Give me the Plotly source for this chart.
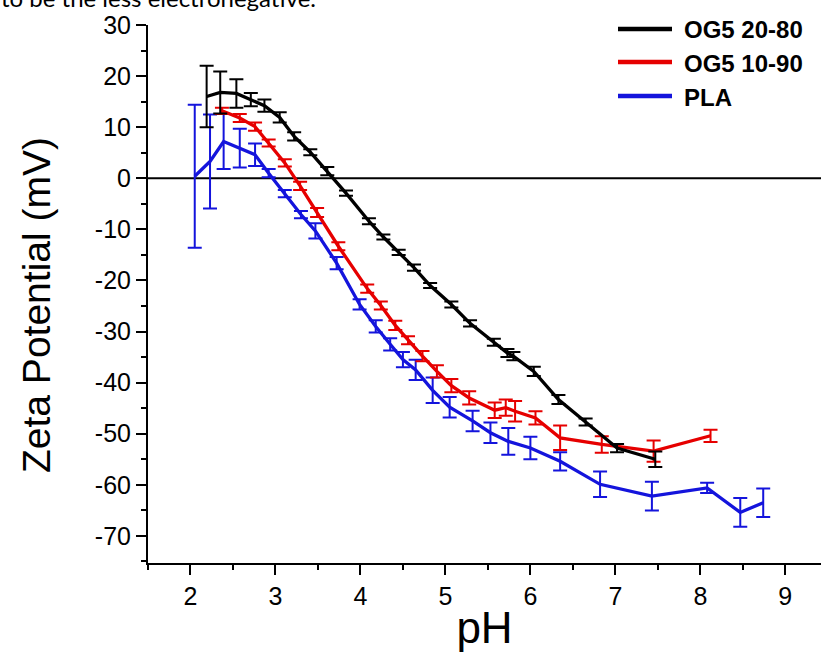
import plotly.graph_objects as go

# OG5 20-80 (black)
ph_a = [2.19, 2.35, 2.54, 2.71, 2.87, 3.05, 3.22, 3.41, 3.61, 3.83, 4.10, 4.27, 4.45, 4.63, 4.82, 5.07, 5.29, 5.57, 5.73, 5.80, 6.04, 6.33, 6.65, 7.02, 7.47]
zp_a = [16.0, 16.8, 16.6, 15.4, 14.2, 11.9, 8.2, 5.1, 1.4, -2.9, -8.4, -11.5, -14.5, -17.5, -21.0, -24.7, -28.4, -32.1, -34.2, -34.8, -37.8, -43.3, -47.7, -52.8, -55.0]
er_a = [6.0, 4.1, 2.8, 1.3, 1.2, 1.0, 0.8, 0.6, 0.8, 0.5, 0.6, 0.5, 0.5, 0.6, 0.5, 0.6, 0.6, 0.7, 0.8, 0.8, 0.9, 0.9, 0.7, 0.8, 1.5]

# OG5 10-90 (red)
ph_b = [2.37, 2.58, 2.76, 2.92, 3.11, 3.29, 3.49, 3.74, 4.08, 4.24, 4.41, 4.56, 4.73, 4.90, 5.07, 5.28, 5.58, 5.71, 5.82, 6.06, 6.35, 6.84, 7.45, 8.12]
zp_b = [13.2, 11.8, 10.1, 6.9, 3.0, -1.5, -6.7, -13.3, -21.6, -24.9, -28.8, -31.7, -34.8, -37.8, -40.6, -43.0, -45.4, -44.9, -45.6, -46.9, -50.8, -52.1, -53.4, -50.4]
er_b = [0.6, 0.8, 0.8, 0.7, 0.7, 0.8, 0.9, 0.8, 0.8, 0.8, 0.9, 0.8, 1.0, 1.2, 1.3, 1.3, 1.5, 1.6, 2.0, 1.3, 2.4, 1.6, 2.1, 1.2]

# PLA (blue)
ph_c = [2.05, 2.23, 2.39, 2.58, 2.76, 2.92, 3.11, 3.30, 3.47, 3.72, 3.99, 4.18, 4.35, 4.50, 4.65, 4.85, 5.05, 5.32, 5.53, 5.74, 6.00, 6.35, 6.82, 7.43, 8.08, 8.47, 8.74]
zp_c = [0.4, 3.3, 7.2, 5.9, 4.6, 1.0, -3.0, -7.1, -10.3, -16.6, -24.7, -29.0, -32.5, -35.5, -37.5, -41.5, -44.8, -47.5, -49.8, -51.5, -52.8, -55.4, -59.9, -62.2, -60.6, -65.4, -63.5]
er_c = [14.0, 9.2, 5.4, 3.8, 2.2, 0.8, 0.7, 0.7, 1.5, 1.2, 1.0, 1.2, 1.2, 1.5, 2.0, 2.5, 2.0, 2.0, 2.0, 2.6, 2.2, 1.8, 2.5, 2.8, 1.0, 2.8, 2.8]

x_ticks = [2, 3, 4, 5, 6, 7, 8, 9]
y_ticks = [30, 20, 10, 0, -10, -20, -30, -40, -50, -60, -70]

series_names = ["OG5 20-80", "OG5 10-90", "PLA"]
series_colors = ["#000000", "#e60000", "#1414dc"]
series = list(zip(series_names, [ph_a, ph_b, ph_c], [zp_a, zp_b, zp_c], [er_a, er_b, er_c], series_colors))

# plot-area geometry (pixels) used to place legend / titles
W, H = 821, 652
ML, MR, MT, MB = 148, 0, 25, 89
PW, PH = W - ML - MR, H - MT - MB


def px(xp):
    return (xp - ML) / PW


def py(yp):
    return (H - MB - yp) / PH


fig = go.Figure()
for name, x, y, e, col in reversed(series):
    fig.add_trace(go.Scatter(
        x=x, y=y, mode="lines", name=name,
        line=dict(color=col, width=3.3),
        error_y=dict(type="data", array=e, visible=True, color=col, thickness=2, width=7),
        showlegend=False,
    ))

fig.add_hline(y=0, line=dict(color="#000000", width=2), layer="below")

font_main = "Liberation Sans, Arial, sans-serif"

# manual legend
legend_rows = [29, 62, 96]
for (name, _, _, _, col), ry in zip(series, legend_rows):
    fig.add_shape(type="line", xref="paper", yref="paper",
                  x0=px(618), x1=px(672), y0=py(ry), y1=py(ry),
                  line=dict(color=col, width=4.5))
    fig.add_annotation(text="<b>" + name + "</b>", xref="paper", yref="paper",
                       x=px(682), y=py(ry + 1), xanchor="left", yanchor="middle",
                       showarrow=False,
                       font=dict(family=font_main, size=24, color="#000000"))

fig.update_layout(
    width=W, height=H,
    margin=dict(l=ML, r=MR, t=MT, b=MB),
    paper_bgcolor="white", plot_bgcolor="white",
    font=dict(family=font_main, color="#000000"),
    showlegend=False,
    xaxis=dict(
        range=[1.5, 9.42], tickvals=x_ticks, ticktext=[str(v) for v in x_ticks],
        showgrid=False, zeroline=False,
        showline=True, linecolor="#000000", linewidth=2,
        ticks="outside", ticklen=10, tickwidth=2, tickcolor="#000000",
        minor=dict(ticks="outside", ticklen=5, tickwidth=2, tickcolor="#000000", dtick=0.5, showgrid=False),
        tickfont=dict(size=25, family=font_main),
        title=dict(text="pH", font=dict(size=44, family=font_main), standoff=4),
    ),
    yaxis=dict(
        range=[-75.3, 30], tickvals=y_ticks, ticktext=[str(v) for v in y_ticks],
        showgrid=False, zeroline=False,
        showline=True, linecolor="#000000", linewidth=2,
        ticks="outside", ticklen=10, tickwidth=2, tickcolor="#000000",
        minor=dict(ticks="outside", ticklen=5, tickwidth=2, tickcolor="#000000", dtick=5, showgrid=False),
        tickfont=dict(size=25, family=font_main),
    ),
)

# y-axis title
fig.add_annotation(
    text="Zeta Potential (mV)", xref="paper", yref="paper",
    x=px(36), y=py(305), xanchor="center", yanchor="middle", textangle=-90,
    showarrow=False, font=dict(family=font_main, size=39, color="#000000"),
)

# cropped caption line above the chart
fig.add_annotation(
    text="to be the less electronegative.",
    xref="paper", yref="paper",
    x=px(-1), y=py(-3), xanchor="left", yanchor="middle",
    showarrow=False, font=dict(family="Lato, Noto Sans, sans-serif", size=24, color="#000000"),
)

fig.write_html("out.html")
